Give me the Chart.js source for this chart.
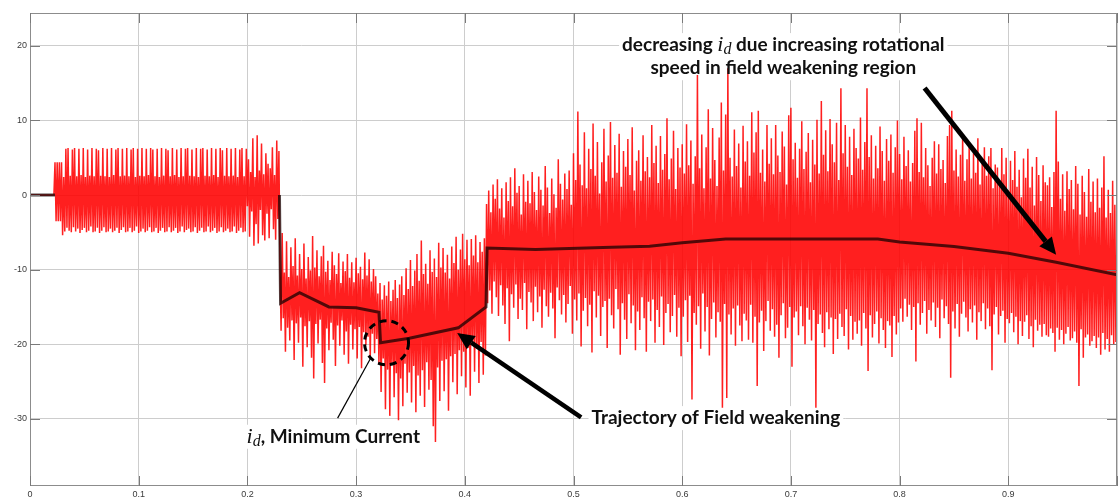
<!DOCTYPE html>
<html><head><meta charset="utf-8">
<script src="https://cdn.jsdelivr.net/npm/chart.js@4.4.1/dist/chart.umd.min.js"></script>
<style>html,body{margin:0;padding:0;background:#fff;overflow:hidden}canvas{display:block}</style>
</head><body>
<canvas id="c" width="1120" height="501"></canvas>
<script>
// ---------- data ----------
const timeStep = 0.001; // sampling step of the red i_d trace (s)
const redValues = [
0,0,0,0,0,0,0,0,0,0, 0,0,0,0,0,0,0,0,0,0, 0,0,0,
4.4,-3.5,4.4,-3.5,4.4,-3.5,4.4,
-5.4,2.4,-4.9,6.2,-4.4,6.3,-4.8,2.6,-5.0,6.1,
-4.3,6.3,-4.9,2.5,-4.5,6.2,-5.1,2.7,-4.7,6.3,
-4.4,2.4,-5.0,6.1,-4.8,2.6,-4.2,6.3,-5.0,2.5,
-4.9,6.2,-4.4,6.0,-5.1,2.6,-4.8,6.3,-4.3,2.5,
-5.0,6.2,-4.9,2.4,-4.5,6.3,-5.0,2.7,-4.8,6.1,
-4.4,6.3,-5.1,2.5,-4.7,6.2,-4.3,2.6,-5.0,6.3,
-4.9,2.5,-4.4,6.1,-5.0,6.3,-4.8,2.4,-4.2,6.2,
-5.1,2.6,-4.9,6.3,-4.5,2.5,-5.0,6.2,-4.8,2.7,
-4.3,6.3,-5.0,6.1,-4.9,2.5,-4.4,6.2,-5.1,2.4,
-4.8,6.3,-4.4,2.6,-5.0,6.2,-4.9,6.0,-4.3,2.5,
-5.0,6.3,-4.8,2.7,-4.4,6.1,-5.1,2.4,-4.9,6.3,
-4.2,2.5,-5.0,6.2,-4.7,6.3,-4.5,2.6,-5.0,6.1,
-4.9,2.5,-4.3,6.3,-5.1,2.4,-4.8,6.2,-4.4,6.3,
-5.0,2.6,-4.9,6.1,-4.2,2.5,-5.0,6.3,-4.8,2.7,
-4.4,6.2,-5.1,2.4,-4.9,6.3,-4.3,6.0,-5.0,2.6,
-4.8,6.3,-4.5,2.5,-5.0,6.2,-4.9,2.6,-4.2,6.3,
-5.1,2.4,-4.8,6.1,-4.4,6.3,-5.0,2.5,-4.9,6.2,
-1.5,4.8,-5.6,3.1,-2.2,7.6,-6.8,2.4,-3.9,8.0,
-6.5,3.3,-2.0,6.9,-5.4,2.8,-6.1,5.6,-2.5,4.2,
-5.8,3.6,-1.9,6.4,-4.6,2.7,-6.0,7.3,-3.2,5.9,
-9.8,-18.2,-5.1,-16.5,-10.4,-21.0,-6.2,-17.8,-11.0,-19.5,
-7.0,-16.8,-9.5,-22.1,-5.8,-17.2,-10.8,-19.8,-7.9,-16.4,
-9.9,-23.0,-6.5,-17.6,-11.2,-20.4,-8.3,-16.9,-10.1,-21.8,
-5.5,-24.6,-9.7,-17.3,-7.4,-19.9,-10.9,-16.7,-8.2,-22.5,
-6.8,-25.2,-10.3,-17.9,-8.8,-20.8,-11.4,-17.1,-7.6,-19.4,
-9.4,-22.9,-10.6,-17.5,-7.8,-20.2,-11.8,-16.8,-8.9,-21.4,
-10.2,-18.3,-7.9,-22.6,-11.1,-17.4,-9.0,-20.7,-11.7,-18.0,
-8.4,-21.9,-10.5,-17.7,-9.6,-23.2,-11.3,-18.4,-7.7,-20.1,
-10.8,-19.0,-8.6,-22.0,-11.6,-18.6,-9.9,-21.2,-10.9,-19.3,
-13.2,-22.5,-11.8,-26.4,-14.0,-21.9,-12.1,-28.7,-13.5,-23.4,
-11.6,-29.6,-14.2,-22.8,-12.7,-27.1,-11.4,-23.9,-13.8,-30.2,
-12.0,-24.6,-10.9,-28.3,-13.4,-22.6,-9.8,-26.5,-12.6,-23.8,
-8.7,-27.8,-12.2,-22.9,-10.1,-29.1,-7.9,-24.2,-11.5,-26.9,
-6.1,-23.5,-10.6,-28.4,-9.2,-22.4,-11.9,-26.1,-7.4,-24.8,
-10.3,-31.0,-8.5,-33.1,-11.0,-23.1,-6.4,-27.6,-9.7,-22.2,
-7.1,-26.3,-10.4,-22.0,-8.0,-28.9,-11.2,-21.6,-6.9,-25.1,
-9.1,-21.3,-5.6,-26.7,-10.0,-20.8,-7.3,-24.3,-5.2,-21.0,
-8.6,-25.8,-6.0,-20.5,-9.4,-26.9,-5.9,-19.9,-8.1,-23.7,
-5.4,-20.6,-9.0,-25.2,-6.3,-19.7,-7.6,-24.1,-5.8,-21.5,
-1.2,-14.5,0.6,-12.8,-2.3,-15.9,1.4,-11.6,-0.5,-13.7,
2.1,-16.2,-1.8,-12.1,0.9,-14.8,-3.0,-17.3,1.7,-12.5,
-0.8,-19.6,2.4,-13.3,-1.5,-15.1,3.6,-12.0,0.3,-16.6,
1.2,-13.9,-2.6,-15.4,2.8,-11.8,-0.9,-18.0,1.9,-13.0,
-1.1,-14.4,3.1,-16.9,0.4,-12.3,-2.0,-15.7,2.5,-13.6,
0.7,-17.8,-1.4,-12.7,3.9,-14.9,1.0,-16.3,-2.4,-13.1,
2.2,-15.2,0.1,-19.2,-1.7,-12.4,4.8,-14.1,1.5,-16.0,
-0.6,-13.4,2.9,-17.1,0.8,-14.6,3.3,-12.2,-1.3,-18.6,
5.6,-14.0,2.0,-16.8,11.2,-13.2,4.1,-20.3,1.3,-15.5,
8.4,-13.8,0.9,-17.6,6.2,-14.7,3.5,-21.1,9.6,-12.9,
2.6,-16.4,7.1,-13.5,0.2,-18.9,4.4,-15.0,8.9,-14.2,
1.8,-20.5,5.3,-13.9,9.8,-16.1,2.3,-17.9,6.7,-12.6,
3.0,-15.3,8.2,-21.4,1.1,-14.5,5.9,-16.7,3.8,-19.3,
7.5,-13.3,2.7,-17.2,9.1,-14.8,0.6,-20.8,4.6,-15.6,
6.0,-18.1,1.9,-13.7,8.0,-16.5,3.2,-21.0,5.1,-14.3,
2.4,-16.9,9.4,-14.0,4.3,-19.8,6.6,-15.4,1.6,-17.7,
7.9,-13.6,3.4,-20.1,5.5,-15.8,10.3,-14.6,2.1,-18.4,
4.9,-16.2,8.6,-13.4,0.8,-19.0,6.3,-15.1,3.7,-21.6,
6.8,-16.3,2.9,-14.1,9.5,-19.7,4.0,-13.5,7.3,-27.4,
1.5,-15.8,5.2,-17.4,16.1,-14.9,3.6,-20.6,8.1,-13.2,
0.9,-18.3,6.4,-15.0,11.5,-21.5,2.2,-16.6,9.0,-14.4,
4.7,-19.1,1.2,-15.7,7.7,-17.0,12.4,-28.5,3.3,-14.6,
10.8,-27.2,17.0,-16.0,5.0,-18.7,2.5,-15.2,8.8,-20.2,
3.9,-14.8,6.9,-17.5,1.0,-19.6,9.3,-15.9,4.5,-16.8,
7.2,-19.4,2.6,-14.7,11.1,-19.8,5.7,-16.3,8.4,-25.6,
11.3,-17.1,3.0,-15.5,6.1,-20.9,1.8,-16.9,9.4,-14.2,
4.2,-18.2,7.6,-15.3,2.8,-19.0,9.4,-17.4,5.3,-21.8,
3.1,-16.1,8.5,-14.5,6.5,-19.2,1.4,-17.8,10.7,-15.0,
11.7,-23.0,4.8,-16.4,7.0,-15.6,2.3,-18.8,6.2,-14.9,
9.9,-17.6,3.5,-20.0,5.8,-15.1,8.3,-16.7,1.7,-19.5,
7.4,-15.4,4.1,-28.5,10.1,-17.3,2.9,-16.0,12.6,-18.5,
5.4,-20.4,8.7,-15.7,3.2,-18.0,10.2,-16.4,6.8,-21.3,
4.4,-16.6,9.7,-19.3,2.0,-15.9,14.3,-17.7,5.6,-18.9,
9.4,-15.3,3.8,-20.7,7.8,-16.2,2.7,-19.4,8.9,-17.0,
6.3,-18.6,4.9,-16.8,10.4,-20.2,3.4,-15.8,7.1,-17.9,
14.3,-23.6,5.1,-16.1,8.0,-19.1,2.2,-17.3,6.6,-15.6,
3.6,-19.9,9.2,-16.5,5.9,-18.1,1.9,-20.5,7.5,-16.9,
4.6,-17.5,8.1,-21.7,3.0,-16.2,6.4,-18.7,10.0,-17.1,
5.5,-15.2,2.1,-17.0,7.8,-13.9,3.9,-16.3,6.0,-14.7,
1.8,-18.1,4.3,-15.0,8.6,-22.3,10.3,-14.5,3.1,-17.4,
9.7,-15.8,2.4,-14.2,6.3,-18.6,4.0,-15.4,1.2,-16.8,
5.0,-14.4,7.2,-17.7,2.9,-15.1,6.8,-19.2,3.5,-14.0,
4.7,-16.5,1.6,-14.9,7.9,-17.3,9.4,-24.5,11.3,-15.6,
3.3,-17.9,6.1,-14.6,2.5,-19.0,5.4,-15.9,8.2,-14.3,
1.9,-16.4,4.8,-18.3,6.9,-15.3,2.2,-17.1,5.6,-14.8,
3.0,-19.4,7.6,-15.7,1.4,-16.9,4.4,-14.5,6.4,-18.0,
2.6,-15.2,5.2,-17.6,6.3,-23.5,0.9,-16.0,4.1,-15.0,
3.7,-18.7,1.5,-16.2,6.3,-15.5,2.8,-19.8,5.0,-16.6,
0.6,-17.2,4.6,-15.8,2.0,-18.4,5.9,-16.3,1.1,-20.0,
3.4,-16.9,-0.3,-18.9,4.9,-17.0,2.3,-16.1,6.2,-19.3,
1.0,-17.6,3.8,-20.4,-1.4,-16.7,5.1,-18.2,2.7,-17.4,
-0.8,-19.0,4.0,-17.3,1.7,-18.8,1.3,-19.0,2.4,-17.9,
-1.6,-18.5,3.1,-21.0,11.3,-17.8,4.5,-19.4,-0.5,-18.1,
2.8,-20.0,-2.1,-18.6,3.2,-17.7,0.8,-19.5,2.0,-19.2,
-1.9,-18.3,3.9,-19.8,1.5,-25.6,-2.6,-18.0,2.6,-21.8,
0.4,-19.1,-2.9,-18.7,3.5,-20.2,-0.9,-19.6,1.8,-18.9,
-2.3,-20.5,2.2,-19.1,-1.7,-21.4,1.0,-18.5,5.2,-20.7,
-3.0,-19.3,0.7,-21.0,-2.4,-18.8,1.9,-20.1,-1.3,-19.7,
-10.5
];
// black trajectory of field weakening (time, value); null = gap
const blackTimes  = [0, 0.023, 0.024, 0.2295, 0.2305, 0.248, 0.275, 0.300, 0.321, 0.3225, 0.349, 0.394, 0.4195, 0.4205, 0.465, 0.535, 0.570, 0.600, 0.640, 0.780, 0.800, 0.850, 0.900, 0.944, 1.000];
const blackValues = [0, 0, null, 0, -14.5, -13.1, -15.0, -15.1, -15.7, -19.8, -19.2, -17.8, -15.0, -7.1, -7.3, -7.0, -6.85, -6.4, -5.9, -5.9, -6.3, -6.9, -7.8, -9.0, -10.7];

const xTickValues = [0, 0.1, 0.2, 0.3, 0.4, 0.5, 0.6, 0.7, 0.8, 0.9, 1.0];
const xTickLabels = ['0', '0.1', '0.2', '0.3', '0.4', '0.5', '0.6', '0.7', '0.8', '0.9', ''];
const yTickValues = [20, 10, 0, -10, -20, -30];
const yTickLabels = ['20', '10', '0', '-10', '-20', '-30'];
const xLimits = [0, 1];
const yLimits = [-39, 24.4];

// annotation texts (placed in data coordinates)
const noteTopLine1 = [['decreasing ', 'b'], ['i', 'm'], ['d', 's'], [' due increasing rotational', 'b']];
const noteTopLine2 = [['speed in field weakening region', 'b']];
const noteTraj = [['Trajectory of Field weakening', 'b']];
const noteMin = [['i', 'm'], ['d', 's'], [', Minimum Current', 'b']];

// ---------- build ----------
const redPoints = redValues.map((v, i) => ({x: +(i * timeStep).toFixed(4), y: v}));
const blackPoints = blackTimes.map((t, i) => ({x: t, y: blackValues[i]}));

const FONT_B = '"Lato", "Open Sans", sans-serif';
const FONT_M = '"Liberation Serif", "DejaVu Serif", serif';
const SZ = 19;
function runFont(kind) {
  if (kind === 'b') return 'bold ' + SZ + 'px ' + FONT_B;
  if (kind === 'm') return 'italic ' + (SZ + 3) + 'px ' + FONT_M;
  return 'italic ' + (SZ - 3) + 'px ' + FONT_M;
}
function runsWidth(ctx, runs) {
  let w = 0;
  for (const [t, k] of runs) { ctx.font = runFont(k); w += ctx.measureText(t).width; }
  return w;
}
function drawRuns(ctx, runs, cx, cy) {
  let x = cx - runsWidth(ctx, runs) / 2;
  ctx.textBaseline = 'middle'; ctx.textAlign = 'left'; ctx.fillStyle = '#111';
  for (const [t, k] of runs) {
    ctx.font = runFont(k);
    const dy = k === 's' ? 5 : 0;
    ctx.fillText(t, x, cy + dy);
    x += ctx.measureText(t).width;
  }
}
function whiteBox(ctx, runs, cx, cy) {
  const w = runsWidth(ctx, runs);
  ctx.fillStyle = '#ffffff';
  ctx.fillRect(cx - w / 2 - 3, cy - 12, w + 6, 24);
}
function arrow(ctx, x0, y0, x1, y1, lw, hl, hw) {
  const a = Math.atan2(y1 - y0, x1 - x0);
  const bx = x1 - hl * Math.cos(a), by = y1 - hl * Math.sin(a);
  ctx.strokeStyle = '#000'; ctx.fillStyle = '#000'; ctx.lineWidth = lw; ctx.lineCap = 'butt';
  ctx.beginPath(); ctx.moveTo(x0, y0); ctx.lineTo(bx, by); ctx.stroke();
  ctx.beginPath();
  ctx.moveTo(x1, y1);
  ctx.lineTo(bx + hw * Math.sin(a), by - hw * Math.cos(a));
  ctx.lineTo(bx - hw * Math.sin(a), by + hw * Math.cos(a));
  ctx.closePath(); ctx.fill();
}

const notes = [
  {runs: noteTopLine1, x: 0.693, y: 20.1},
  {runs: noteTopLine2, x: 0.693, y: 17.0},
  {runs: noteTraj, x: 0.631, y: -29.9},
  {runs: noteMin, x: 0.279, y: -32.4}
];

const overlay = {
  id: 'overlay',
  beforeDatasetsDraw(chart) {
    const {ctx, scales: {x, y}} = chart;
    ctx.save();
    for (const n of notes) whiteBox(ctx, n.runs, x.getPixelForValue(n.x), y.getPixelForValue(n.y));
    ctx.restore();
  },
  afterDatasetsDraw(chart) {
    const {ctx, chartArea: a, scales: {x, y}} = chart;
    ctx.save();
    // frame
    ctx.strokeStyle = '#8c8c8c'; ctx.lineWidth = 1;
    ctx.strokeRect(a.left + 0.5, a.top + 0.5, a.right - a.left - 1, a.bottom - a.top - 1);
    // inward ticks
    ctx.strokeStyle = '#7a7a7a';
    ctx.beginPath();
    xTickValues.forEach(v => {
      const px = Math.round(x.getPixelForValue(v)) + 0.5;
      ctx.moveTo(px, a.bottom); ctx.lineTo(px, a.bottom - 10);
      ctx.moveTo(px, a.top); ctx.lineTo(px, a.top + 10);
    });
    yTickValues.forEach(v => {
      const py = Math.round(y.getPixelForValue(v)) + 0.5;
      ctx.moveTo(a.left, py); ctx.lineTo(a.left + 10, py);
      ctx.moveTo(a.right, py); ctx.lineTo(a.right - 10, py);
    });
    ctx.stroke();

    // annotations
    for (const n of notes) drawRuns(ctx, n.runs, x.getPixelForValue(n.x), y.getPixelForValue(n.y));
    const P = (t, v) => [x.getPixelForValue(t), y.getPixelForValue(v)];
    let p0 = P(0.823, 14.35), p1 = P(0.944, -8.0);
    arrow(ctx, p0[0], p0[1], p1[0], p1[1], 5, 17, 8);
    p0 = P(0.507, -29.8); p1 = P(0.393, -18.5);
    arrow(ctx, p0[0], p0[1], p1[0], p1[1], 4.5, 17, 8);
    // dashed circle around the minimum current
    const c = P(0.328, -19.8);
    ctx.setLineDash([7, 5]); ctx.lineWidth = 3; ctx.strokeStyle = '#000';
    ctx.beginPath(); ctx.arc(c[0], c[1], 22, 0, Math.PI * 2); ctx.stroke();
    ctx.setLineDash([]);
    // leader line
    p0 = P(0.283, -29.9); p1 = P(0.314, -21.7);
    ctx.lineWidth = 1.2;
    ctx.beginPath(); ctx.moveTo(p0[0], p0[1]); ctx.lineTo(p1[0], p1[1]); ctx.stroke();
    ctx.restore();
  }
};

new Chart(document.getElementById('c').getContext('2d'), {
  type: 'line',
  data: {
    datasets: [
      {label: 'trajectory', data: blackPoints, borderColor: 'rgba(15,0,0,0.72)', borderWidth: 3, pointRadius: 0, tension: 0, spanGaps: false, order: 0},
      {label: 'i_d', data: redPoints, borderColor: 'rgba(255,0,0,0.88)', borderWidth: 1.5, pointRadius: 0, tension: 0, order: 1}
    ]
  },
  options: {
    responsive: false, animation: false, devicePixelRatio: 1,
    layout: {padding: {top: 13, right: 1, left: 0, bottom: 0}},
    plugins: {legend: {display: false}, tooltip: {enabled: false}},
    scales: {
      x: {
        type: 'linear', min: xLimits[0], max: xLimits[1],
        afterFit(s) { s.height = 15; },
        afterBuildTicks(s) { s.ticks = xTickValues.map(v => ({value: v})); },
        ticks: {callback: (v, i) => xTickLabels[i], autoSkip: false, maxRotation: 0, padding: 3,
                color: '#3a3a3a', font: {size: 9, family: '"Liberation Sans", Arial, sans-serif'}},
        grid: {color: '#cdcdcd', lineWidth: 1, drawTicks: false},
        border: {display: false}
      },
      y: {
        type: 'linear', min: yLimits[0], max: yLimits[1],
        afterFit(s) { s.width = 30; },
        afterBuildTicks(s) { s.ticks = yTickValues.map(v => ({value: v})); },
        ticks: {callback: (v, i) => yTickLabels[i], autoSkip: false, padding: 3,
                color: '#3a3a3a', font: {size: 9, family: '"Liberation Sans", Arial, sans-serif'}},
        grid: {color: '#cdcdcd', lineWidth: 1, drawTicks: false},
        border: {display: false}
      }
    }
  },
  plugins: [overlay]
});
</script>
</body></html>
